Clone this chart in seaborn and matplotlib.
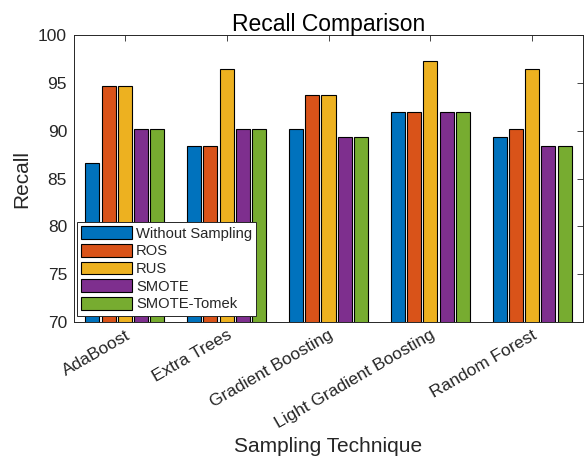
import matplotlib
matplotlib.use("Agg")
import matplotlib.pyplot as plt
import seaborn as sns
import pandas as pd

models = ["AdaBoost", "Extra Trees", "Gradient Boosting", "Light Gradient Boosting", "Random Forest"]
techniques = ["Without Sampling", "ROS", "RUS", "SMOTE", "SMOTE-Tomek"]
without_sampling = [86.61, 88.39, 90.18, 91.96, 89.29]
ros = [94.64, 88.39, 93.75, 91.96, 90.18]
rus = [94.64, 96.43, 93.75, 97.32, 96.43]
smote = [90.18, 90.18, 89.29, 91.96, 88.39]
smote_tomek = [90.18, 90.18, 89.29, 91.96, 88.39]
colors = ["#0072BD", "#D95319", "#EDB120", "#7E2F8E", "#77AC30"]

series = [without_sampling, ros, rus, smote, smote_tomek]
rows = []
for t, vals in zip(techniques, series):
    for m, v in zip(models, vals):
        rows.append({"Model": m, "Technique": t, "Recall": v})
df = pd.DataFrame(rows)

sns.set_style("white")
plt.rcParams["font.family"] = ["Liberation Sans", "DejaVu Sans"]
txt = "#262626"
plt.rcParams["text.color"] = txt
plt.rcParams["axes.labelcolor"] = txt
plt.rcParams["xtick.color"] = txt
plt.rcParams["ytick.color"] = txt

fig = plt.figure(figsize=(5.84, 4.61), dpi=100)
ax = fig.add_axes([74/584, 1-322/461, 509/584, 287/461])

sns.barplot(data=df, x="Model", y="Recall", hue="Technique", order=models,
            hue_order=techniques, palette=colors, width=0.8, gap=0.14,
            edgecolor="black", linewidth=0.8, saturation=1, ax=ax, legend=True)

ax.set_ylim(70, 100)
ax.set_xlim(-0.5, 4.5)
ax.set_yticks([70, 75, 80, 85, 90, 95, 100])
ax.tick_params(axis="both", direction="in", length=4, width=0.6, labelsize=12.5,
               top=True, right=True, colors=txt, labelcolor=txt)
ax.tick_params(axis="x", pad=4)
ax.tick_params(axis="y", pad=5)
plt.setp(ax.get_xticklabels(), rotation=30, ha="right", rotation_mode="anchor")
for s in ax.spines.values():
    s.set_color(txt)
    s.set_linewidth(0.7)

ax.set_title("Recall Comparison", fontsize=16.5, pad=3, color="black")
ax.set_xlabel("Sampling Technique", fontsize=15, labelpad=4)
ax.set_ylabel("Recall", fontsize=15, labelpad=5)

leg = ax.legend(loc="lower left", bbox_to_anchor=(0.006, 0.022), borderaxespad=0,
                fontsize=10.6, frameon=True, fancybox=False, framealpha=1,
                edgecolor=txt, handlelength=3.4, handleheight=0.95,
                labelspacing=0.22, borderpad=0.3, handletextpad=0.3)
leg.get_frame().set_linewidth(0.7)

fig.savefig("out.png", dpi=100)
